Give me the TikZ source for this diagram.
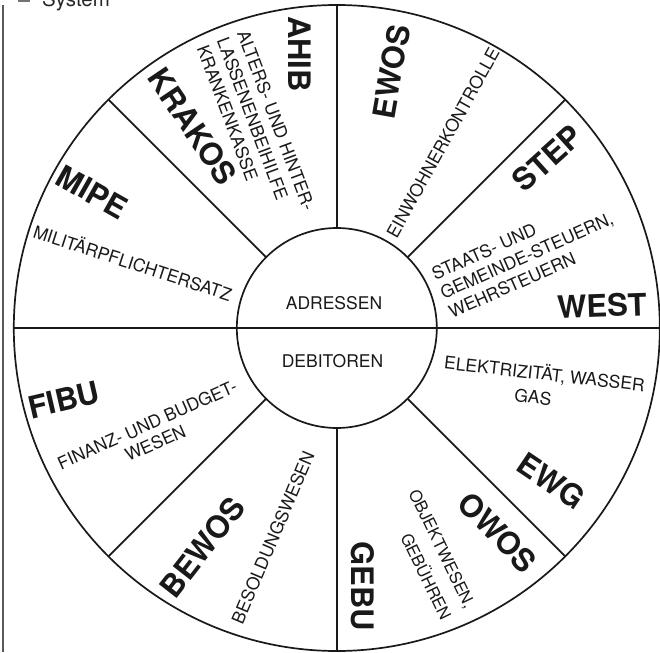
\documentclass[tikz,border=0pt]{standalone}
\usepackage{fontspec}
\setmainfont{TeX Gyre Heros}
\usetikzlibrary{calc}
\begin{document}
\begin{tikzpicture}[x=1pt,y=-1pt,
  wheel/.style={line width=1.7pt, black!90},
  reg/.style={font=\fontsize{17.5}{21}\selectfont, inner sep=0pt, text height=12.6pt, text depth=0pt, text=black!90},
  obj/.style={font=\fontsize{16.5}{20}\selectfont, inner sep=0pt, text height=11.9pt, text depth=0pt, text=black!90},
  bld/.style={font=\fontsize{31}{36}\selectfont\bfseries, inner sep=0pt, text height=22.3pt, text depth=0pt, text=black!90}]
\useasboundingbox (0,0) rectangle (660,652);
\clip (0,0) rectangle (660,652);
% frame remnants and legend
\draw[line width=1.3pt, black!65] (3,5) -- (3,652);
\draw[line width=1.2pt, black!55] (18,1) -- (30,1);
\node[anchor=base west, inner sep=0pt, font=\fontsize{20.5}{24}\selectfont, text=black!85] (sys) at (42,7) {System};
% wheel
\coordinate (C) at (336.8,328);
\draw[wheel] (C) circle[radius=323pt];
\draw[wheel] (C) circle[radius=100pt];
\draw[wheel] ($(C)+(-323,0)$) -- ($(C)+(323,0)$);
\foreach \a in {45,90,135,-45,-90,-135}
  \draw[wheel] ($(C)+(\a:100)$) -- ($(C)+(\a:323)$);
% centre
\node[reg] (adr) at (334,303) {ADRESSEN};
\node[reg] (deb) at (332.5,361.5) {DEBITOREN};
% EWOS
\node[bld, rotate=80] (ewos) at (391.5,72) {EWOS};
\node[reg, rotate=61] (ewosT) at (443,143) {EINWOHNERKONTROLLE};
% STEP / WEST
\node[bld, rotate=42] (step) at (547.5,158.5) {STEP};
\begin{scope}[shift={(432.5,274.6)}, rotate=24, transform shape]
  \node[reg, anchor=west] (st1) at (0,0) {STAATS- UND};
  \node[reg, anchor=west] (st2) at (0,21) {GEMEINDE-STEUERN,};
  \node[reg, anchor=west] (st3) at (0,42) {WEHRSTEUERN};
\end{scope}
\node[bld, rotate=2] (west) at (602,306) {WEST};
% EWG
\node[reg, rotate=-6.5] (ew1) at (544.5,374) {ELEKTRIZITÄT, WASSER};
\node[reg, rotate=-6.5] (ew2) at (533,397) {GAS};
\node[bld, rotate=-34] (ewg) at (551,481) {EWG};
% OWOS / GEBU
\node[bld, rotate=-46] (owos) at (497.5,532.5) {OWOS};
\begin{scope}[shift={(470.5,607.3)}, rotate=-64, transform shape]
  \node[obj, anchor=east] (ob1) at (0,0) {OBJEKTWESEN,};
  \node[obj, anchor=east] (ob2) at (0,26.7) {GEBÜHREN};
\end{scope}
\node[bld, rotate=-90] (gebu) at (363,586) {GEBU};
% BEWOS
\node[bld, rotate=52] (bewos) at (202.5,547.5) {BEWOS};
\node[reg, rotate=67] (bes) at (273,537.5) {BESOLDUNGSWESEN};
% FIBU
\node[bld, rotate=13] (fibu) at (64,400) {FIBU};
\begin{scope}[shift={(147.2,424.9)}, rotate=24, transform shape]
  \node[reg] (fi1) at (0,0) {FINANZ- UND BUDGET-};
  \node[reg] (fi2) at (0,20) {WESEN};
\end{scope}
% MIPE
\node[bld, rotate=-29.5] (mipe) at (92,192) {MIPE};
\node[reg, rotate=-18] (mil) at (132.5,263.5) {MILITÄRPFLICHTERSATZ};
% KRAKOS / AHIB
\node[bld, rotate=-56] (krakos) at (192.5,126.5) {KRAKOS};
\node[bld, rotate=-90] (ahib) at (300,54) {AHIB};
\begin{scope}[shift={(242.7,30.8)}, rotate=-69.5, transform shape]
  \node[reg, anchor=west] (al1) at (0,0) {ALTERS- UND HINTER-};
  \node[reg, anchor=west] (al2) at (0,21.5) {LASSENENBEIHILFE};
  \node[reg, anchor=west] (al3) at (0,43) {KRANKENKASSE};
\end{scope}
\end{tikzpicture}
\end{document}
